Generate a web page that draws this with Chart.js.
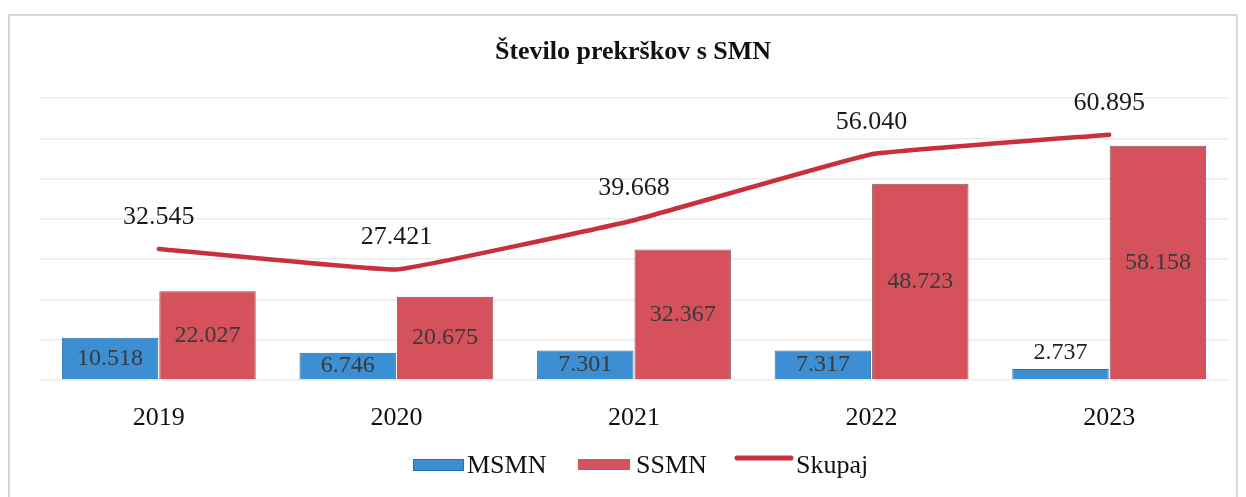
<!DOCTYPE html>
<html>
<head>
<meta charset="utf-8">
<script src="https://cdn.jsdelivr.net/npm/chart.js@4/dist/chart.umd.min.js"></script>
<style>
  html, body { margin: 0; padding: 0; background: #fff; }
  #wrap { position: relative; width: 1246px; height: 497px; }
  #frame { position: absolute; left: 8px; top: 14px; width: 1230px; height: 490px;
           border: 2px solid #d6d6d6; box-sizing: border-box; pointer-events: none; }
</style>
</head>
<body>
<div id="wrap">
  <canvas id="chart" width="1246" height="497"></canvas>
  <div id="frame"></div>
</div>
<script>
// data
const years = ["2019", "2020", "2021", "2022", "2023"];
const msmn = [10518, 6746, 7301, 7317, 2737];
const ssmn = [22027, 20675, 32367, 48723, 58158];
const skupaj = [32545, 27421, 39668, 56040, 60895];
const seriesNames = ["MSMN", "SSMN", "Skupaj"];
const chartTitle = "Število prekrškov s SMN";

const SERIF = '"Liberation Serif", "Times New Roman", serif';
const BLUE = "#3d8fd3";
const RED = "#d5525c";
const LINE_RED = "#c9303b";

// Slovenian style number: 32.545
function fmt(v) {
  return v.toLocaleString("de-DE");
}

// draws title, legend and value labels
const decorPlugin = {
  id: "decor",
  afterDatasetsDraw(chart) {
    const ctx = chart.ctx;
    ctx.save();
    ctx.textAlign = "center";
    ctx.textBaseline = "middle";

    // bar labels
    [0, 1].forEach(di => {
      const meta = chart.getDatasetMeta(di);
      const vals = chart.data.datasets[di].data;
      meta.data.forEach((bar, i) => {
        const h = bar.base - bar.y;
        ctx.font = "24px " + SERIF;
        if (h < 24) {
          ctx.fillStyle = "#222";
          ctx.fillText(fmt(vals[i]), bar.x, bar.y - 16);
        } else {
          ctx.fillStyle = "#3a3a3a";
          ctx.fillText(fmt(vals[i]), bar.x, bar.y + h / 2);
        }
      });
    });

    // line labels
    const lm = chart.getDatasetMeta(2);
    ctx.font = "26px " + SERIF;
    ctx.fillStyle = "#1a1a1a";
    lm.data.forEach((pt, i) => {
      ctx.fillText(fmt(skupaj[i]), pt.x, pt.y - 32);
    });

    // title
    ctx.font = "bold 26px " + SERIF;
    ctx.fillStyle = "#111";
    ctx.fillText(chartTitle, 633, 52);

    // legend
    ctx.font = "26px " + SERIF;
    ctx.textAlign = "left";
    ctx.fillStyle = BLUE;
    ctx.fillRect(413, 459, 50, 11);
    ctx.strokeStyle = "#2c6ea6";
    ctx.lineWidth = 1;
    ctx.strokeRect(413.5, 459.5, 50, 11);
    ctx.fillStyle = "#111";
    ctx.fillText(seriesNames[0], 467, 466);

    ctx.fillStyle = RED;
    ctx.fillRect(578, 459, 52, 11);
    ctx.fillStyle = "#111";
    ctx.fillText(seriesNames[1], 636, 466);

    ctx.strokeStyle = LINE_RED;
    ctx.lineWidth = 5;
    ctx.lineCap = "round";
    ctx.beginPath();
    ctx.moveTo(737, 458);
    ctx.lineTo(791, 458);
    ctx.stroke();
    ctx.fillStyle = "#111";
    ctx.fillText(seriesNames[2], 796, 466);

    ctx.restore();
  }
};

new Chart(document.getElementById("chart"), {
  type: "bar",
  data: {
    labels: years,
    datasets: [
      {
        label: seriesNames[0],
        data: msmn,
        backgroundColor: BLUE,
        borderColor: "#2c6ea6",
        borderWidth: 1,
        order: 1,
        categoryPercentage: 0.82,
        barPercentage: 0.99
      },
      {
        label: seriesNames[1],
        data: ssmn,
        backgroundColor: RED,
        borderColor: "#8e5a5a",
        borderWidth: 1,
        order: 1,
        categoryPercentage: 0.82,
        barPercentage: 0.99
      },
      {
        type: "line",
        label: seriesNames[2],
        data: skupaj,
        borderColor: LINE_RED,
        borderWidth: 4.5,
        pointRadius: 0,
        tension: 0.08,
        borderCapStyle: "round",
        order: 0
      }
    ]
  },
  options: {
    responsive: false,
    animation: false,
    layout: { padding: { left: 40, right: 18, top: 98, bottom: 0 } },
    plugins: {
      legend: { display: false },
      title: { display: false },
      tooltip: { enabled: false }
    },
    scales: {
      x: {
        grid: { display: false },
        border: { display: false },
        ticks: {
          color: "#111",
          font: { family: SERIF, size: 26 },
          padding: 15
        },
        afterFit(scale) { scale.height = 117; }
      },
      y: {
        min: 0,
        max: 70000,
        ticks: { display: false, stepSize: 10000 },
        grid: { color: "#ebebeb", lineWidth: 1.5, drawTicks: false },
        border: { display: false },
        afterFit(scale) { scale.width = 0; }
      }
    }
  },
  plugins: [decorPlugin]
});
</script>
</body>
</html>
